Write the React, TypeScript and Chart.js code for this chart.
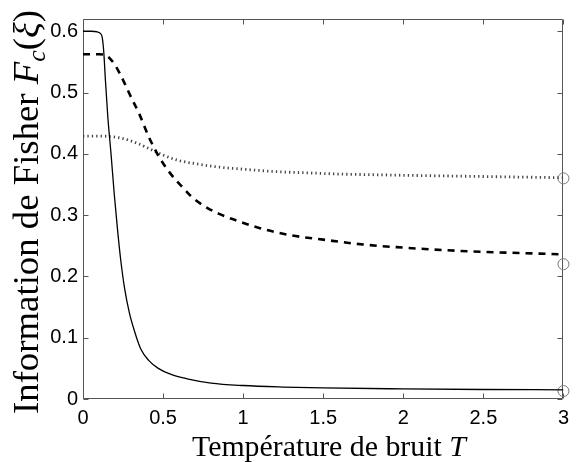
import { useEffect, useRef } from 'react';
import { Chart, registerables } from 'chart.js';
Chart.register(...registerables);

// ---- data ----
const solidX = [0, 0.05, 0.09, 0.11, 0.12, 0.13, 0.14, 0.155, 0.175, 0.195, 0.215, 0.235, 0.26, 0.29, 0.32, 0.36, 0.41, 0.47, 0.55, 0.65, 0.8, 1.0, 1.25, 1.5, 2.0, 2.5, 3.0];
const solidY = [0.6, 0.6, 0.599, 0.596, 0.59, 0.565, 0.52, 0.46, 0.4, 0.335, 0.278, 0.228, 0.18, 0.14, 0.112, 0.082, 0.063, 0.05, 0.04, 0.033, 0.026, 0.022, 0.0195, 0.018, 0.0165, 0.0155, 0.015];

const dashedX = [0, 0.05, 0.1, 0.14, 0.17, 0.2, 0.23, 0.26, 0.29, 0.32, 0.35, 0.38, 0.41, 0.44, 0.475, 0.52, 0.57, 0.62, 0.67, 0.75, 0.85, 0.95, 1.1, 1.3, 1.5, 1.75, 2.0, 2.25, 2.5, 2.75, 3.0];
const dashedY = [0.5625, 0.5625, 0.5625, 0.561, 0.555, 0.545, 0.531, 0.515, 0.498, 0.482, 0.466, 0.447, 0.428, 0.412, 0.395, 0.377, 0.36, 0.346, 0.332, 0.316, 0.302, 0.292, 0.279, 0.267, 0.26, 0.252, 0.247, 0.243, 0.24, 0.238, 0.236];

const dottedX = [0, 0.1, 0.18, 0.25, 0.3, 0.35, 0.4, 0.5, 0.6, 0.7, 0.8, 0.9, 1.0, 1.2, 1.4, 1.6, 1.8, 2.0, 2.25, 2.5, 2.75, 3.0];
const dottedY = [0.429, 0.429, 0.428, 0.425, 0.421, 0.416, 0.41, 0.398, 0.389, 0.384, 0.38, 0.377, 0.375, 0.371, 0.369, 0.367, 0.366, 0.365, 0.364, 0.363, 0.362, 0.361];

const limitX = [3, 3, 3];
const limitY = [0.36, 0.22, 0.013];

const xTicks = [0, 0.5, 1, 1.5, 2, 2.5, 3];
const yTicks = [0, 0.1, 0.2, 0.3, 0.4, 0.5, 0.6];
const xMax = 3;
const yMax = 0.62;

const xTitle = [{ t: 'Température de bruit ' }, { t: 'T', i: true }];
const yTitle = [
  { t: 'Information de Fisher ' },
  { t: 'F', i: true },
  { t: 'c', i: true, sub: true },
  { t: '(' },
  { t: 'ξ', i: true },
  { t: ')' },
];

const SERIF = "'Liberation Serif', 'DejaVu Serif', serif";
const SANS = "'Liberation Sans', Arial, sans-serif";

type Seg = { t: string; i?: boolean; sub?: boolean };

function segFont(s: Seg, size: number) {
  const sz = s.sub ? size * 0.7 : size;
  return `${s.i ? 'italic ' : ''}${sz}px ${SERIF}`;
}
function measureRich(ctx: CanvasRenderingContext2D, segs: Seg[], size: number) {
  let w = 0;
  for (const s of segs) {
    ctx.font = segFont(s, size);
    w += ctx.measureText(s.t).width;
  }
  return w;
}
function drawRich(ctx: CanvasRenderingContext2D, segs: Seg[], targetW: number) {
  const base = 30;
  const size = (base * targetW) / measureRich(ctx, segs, base);
  let x = -targetW / 2;
  ctx.textBaseline = 'alphabetic';
  ctx.textAlign = 'left';
  ctx.fillStyle = '#000';
  for (const s of segs) {
    ctx.font = segFont(s, size);
    ctx.fillText(s.t, x, s.sub ? size * 0.2 : 0);
    x += ctx.measureText(s.t).width;
  }
}

const pts = (xs: number[], ys: number[]) => xs.map((x, k) => ({ x, y: ys[k] }));

const framePlugin = {
  id: 'frame',
  beforeDatasetsDraw(chart: any) {
    const { ctx, chartArea: a, scales } = chart;
    const sx = scales.x, sy = scales.y;
    ctx.save();
    ctx.strokeStyle = '#555';
    ctx.lineWidth = 1;
    const L = Math.round(a.left) + 0.5, R = Math.round(a.right) - 0.5;
    const T = Math.round(a.top) + 0.5, B = Math.round(a.bottom) - 0.5;
    ctx.beginPath();
    ctx.rect(L, T, R - L, B - T);
    const tl = 5;
    for (const v of xTicks) {
      const px = Math.round(sx.getPixelForValue(v)) + 0.5;
      ctx.moveTo(px, B); ctx.lineTo(px, B - tl);
      ctx.moveTo(px, T); ctx.lineTo(px, T + tl);
    }
    for (const v of yTicks) {
      const py = Math.round(sy.getPixelForValue(v)) + 0.5;
      ctx.moveTo(L, py); ctx.lineTo(L + tl, py);
      ctx.moveTo(R, py); ctx.lineTo(R - tl, py);
    }
    ctx.stroke();
    ctx.restore();
  },
  afterDraw(chart: any) {
    const { ctx } = chart;
    ctx.save();
    ctx.translate(329, 456);
    drawRich(ctx, xTitle, 274);
    ctx.restore();
    ctx.save();
    ctx.translate(38, 212);
    ctx.rotate(-Math.PI / 2);
    drawRich(ctx, yTitle, 404);
    ctx.restore();
  },
};

export default function App() {
  const ref = useRef<HTMLCanvasElement | null>(null);
  useEffect(() => {
    document.body.style.margin = '0';
    const canvas = ref.current!;
    const chart = new Chart(canvas, {
      type: 'line',
      data: {
        datasets: [
          {
            data: pts(solidX, solidY),
            borderColor: '#000',
            borderWidth: 1.3,
            pointRadius: 0,
            cubicInterpolationMode: 'monotone',
          },
          {
            data: pts(dashedX, dashedY),
            borderColor: '#000',
            borderWidth: 2.6,
            borderDash: [7, 6],
            pointRadius: 0,
            cubicInterpolationMode: 'monotone',
          },
          {
            data: pts(dottedX, dottedY),
            borderColor: '#444',
            borderWidth: 2.8,
            borderDash: [1.3, 3.1],
            borderCapStyle: 'butt',
            pointRadius: 0,
            cubicInterpolationMode: 'monotone',
          },
          {
            data: pts(limitX, limitY),
            showLine: false,
            pointRadius: 5.5,
            pointBorderWidth: 1,
            pointBorderColor: '#777',
            pointBackgroundColor: 'rgba(0,0,0,0)',
            clip: false,
          } as any,
        ],
      },
      options: {
        animation: false,
        responsive: false,
        devicePixelRatio: 1,
        layout: { padding: { left: 0, right: 7, top: 19, bottom: 0 } },
        plugins: { legend: { display: false }, tooltip: { enabled: false } },
        scales: {
          x: {
            type: 'linear',
            min: 0,
            max: xMax,
            grid: { display: false, drawTicks: false },
            border: { display: false },
            afterBuildTicks: (s: any) => { s.ticks = xTicks.map((v) => ({ value: v })); },
            afterFit: (s: any) => { s.height = 63; },
            ticks: {
              padding: 7,
              color: '#000',
              font: { family: SANS, size: 20 },
              maxRotation: 0,
              callback: (v: any) => String(v),
            },
          },
          y: {
            type: 'linear',
            min: 0,
            max: yMax,
            grid: { display: false, drawTicks: false },
            border: { display: false },
            afterBuildTicks: (s: any) => { s.ticks = yTicks.map((v) => ({ value: v })); },
            afterFit: (s: any) => { s.width = 83; },
            ticks: {
              padding: 5,
              color: '#000',
              font: { family: SANS, size: 20 },
              callback: (v: any) => String(Math.round(v * 10) / 10),
            },
          },
        },
      },
      plugins: [framePlugin],
    });
    return () => chart.destroy();
  }, []);
  return (
    <div style={{ width: 576, height: 462 }}>
      <canvas ref={ref} width={576} height={462} style={{ display: 'block' }} />
    </div>
  );
}
